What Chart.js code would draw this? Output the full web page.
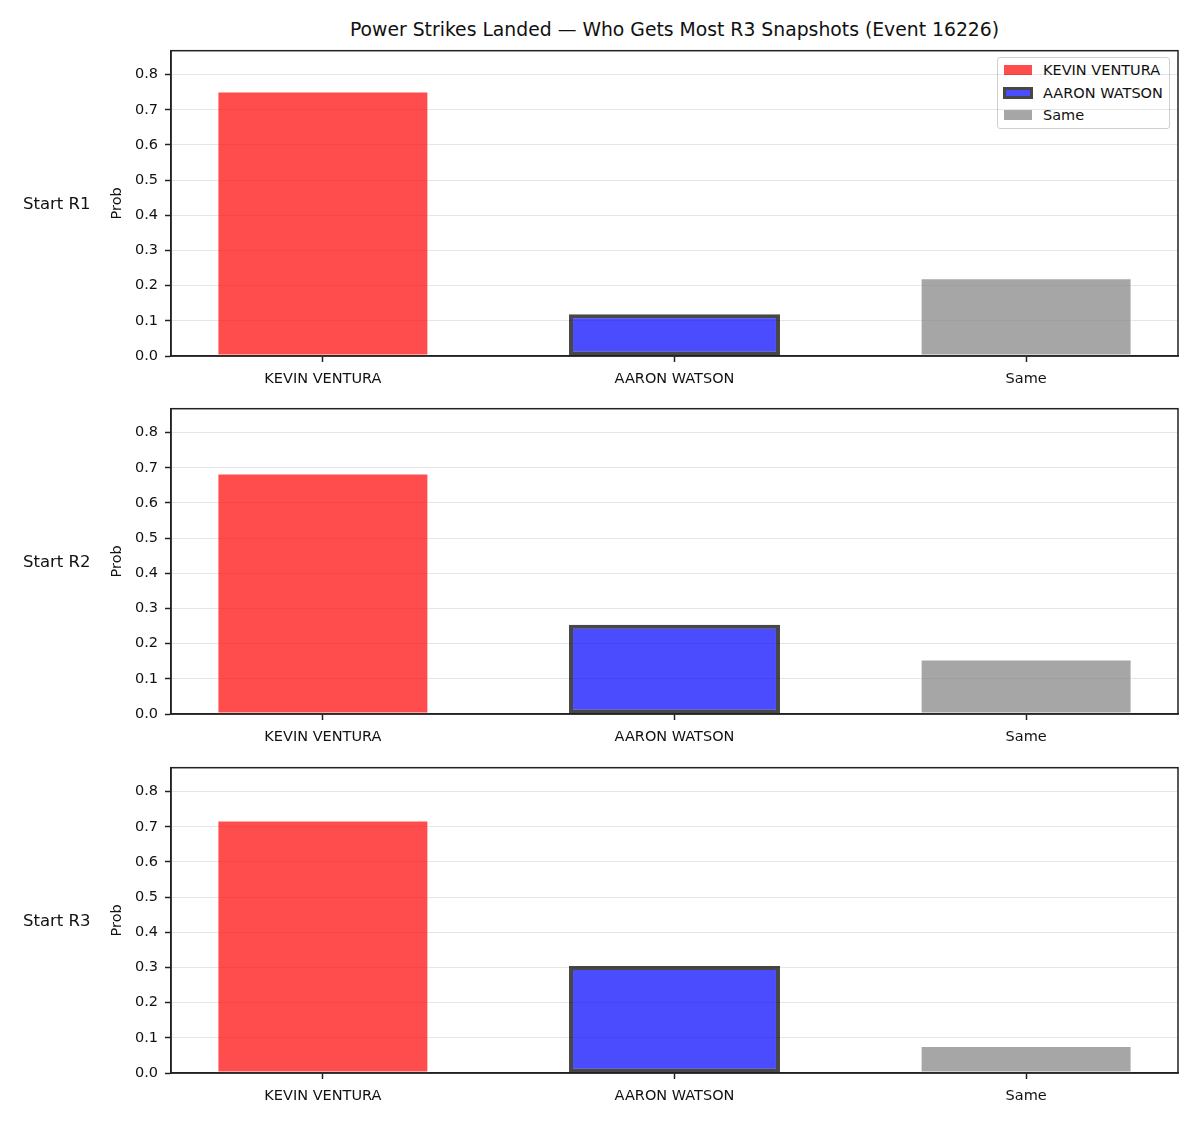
<!DOCTYPE html>
<html>
<head>
<meta charset="utf-8">
<script src="https://cdn.jsdelivr.net/npm/chart.js@4.4.1/dist/chart.umd.min.js"></script>
<style>
  body { margin: 0; background: #fff; font-family: 'DejaVu Sans', sans-serif; color: #111; }
  #page { position: relative; width: 1200px; height: 1125px; }
  #title { position: absolute; left: 171px; width: 1007px; top: 19px; text-align: center; font-size: 18.8px; }
  .rowLabel { position: absolute; left: 23px; font-size: 16.5px; transform: translateY(-50%); }
  canvas.panel { position: absolute; left: 0; }
  #legend { position: absolute; left: 997px; top: 57px; width: 171px; height: 70px; border: 1px solid #d0d0d0; border-radius: 3px; background: rgba(255,255,255,0.85); font-size: 14.5px; }
  .legRow { position: absolute; left: 6px; height: 18px; display: flex; align-items: center; }
  .legSwatch { width: 28px; height: 10px; margin-right: 11px; }
</style>
</head>
<body>
<div id="page">
  <div id="title">Power Strikes Landed — Who Gets Most R3 Snapshots (Event 16226)</div>
  <div id="legend"></div>
</div>
<script>
// values, one entry per panel (Start R1, R2, R3)
const categories = ['KEVIN VENTURA', 'AARON WATSON', 'Same'];
const panelLabels = ['Start R1', 'Start R2', 'Start R3'];
const kevinProb = [0.752, 0.684, 0.718];
const aaronProb = [0.119, 0.254, 0.304];
const sameProb = [0.221, 0.155, 0.077];
const yTicks = [0, 0.1, 0.2, 0.3, 0.4, 0.5, 0.6, 0.7, 0.8];
const yMax = 0.868;

const series = [kevinProb, aaronProb, sameProb];
const barColors = ['rgba(255,0,0,0.7)', 'rgba(0,0,255,0.7)', 'rgba(128,128,128,0.7)'];
const edgeColors = ['rgba(255,255,255,0.6)', 'rgba(0,0,0,0.72)', 'rgba(255,255,255,0.6)'];
const edgeWidths = [1, 4, 1];

const PANEL_TOPS = [35, 393, 752];
const DARK = '#222';

Chart.defaults.font.family = "'DejaVu Sans', sans-serif";
Chart.defaults.font.size = 14.5;
Chart.defaults.color = '#111';

// draw the top/right spines so the axes look boxed
const boxPlugin = {
  id: 'box',
  afterDraw(chart) {
    const { ctx, chartArea: a } = chart;
    ctx.save();
    ctx.strokeStyle = DARK;
    ctx.lineWidth = 1.5;
    ctx.strokeRect(a.left, a.top, a.right - a.left, a.bottom - a.top);
    ctx.restore();
  },
};

function makePanel(idx) {
  const page = document.getElementById('page');
  const canvas = document.createElement('canvas');
  canvas.className = 'panel';
  canvas.width = 1200;
  canvas.height = 355;
  canvas.style.top = PANEL_TOPS[idx] + 'px';
  page.appendChild(canvas);

  const lab = document.createElement('div');
  lab.className = 'rowLabel';
  lab.textContent = panelLabels[idx];
  lab.style.top = (PANEL_TOPS[idx] + 15 + 153) + 'px';
  page.appendChild(lab);

  const datasets = categories.map((name, i) => ({
    label: name,
    data: [{ x: i, y: series[i][idx] }],
    backgroundColor: barColors[i],
    borderColor: edgeColors[i],
    borderWidth: edgeWidths[i],
    borderSkipped: false,
  }));

  return new Chart(canvas, {
    type: 'bar',
    data: { datasets },
    options: {
      responsive: false,
      animation: false,
      layout: { padding: { left: 105, right: 22, top: 10, bottom: 0 } },
      datasets: { bar: { grouped: false, categoryPercentage: 1, barPercentage: 0.6 } },
      plugins: { legend: { display: false }, tooltip: { enabled: false } },
      scales: {
        x: {
          type: 'linear',
          offset: false,
          min: -0.432,
          max: 2.432,
          afterBuildTicks: (scale) => { scale.ticks = categories.map((_, i) => ({ value: i })); },
          afterFit: (scale) => { scale.height = 34; },
          ticks: { callback: (v) => categories[Math.round(v)], padding: 9, maxRotation: 0, autoSkip: false },
          grid: { offset: false, drawOnChartArea: false, tickColor: DARK, tickLength: 6, tickWidth: 1.5 },
          border: { color: DARK, width: 1.5 },
        },
        y: {
          min: 0,
          max: yMax,
          afterBuildTicks: (scale) => { scale.ticks = yTicks.map((v) => ({ value: v })); },
          afterFit: (scale) => { scale.width = 66; },
          ticks: { callback: (v) => v.toFixed(1), padding: 7 },
          grid: { color: 'rgba(0,0,0,0.1)', tickColor: DARK, tickLength: 6, tickWidth: 1.5 },
          border: { color: DARK, width: 1.5 },
          title: { display: true, text: 'Prob', font: { size: 14.5 }, padding: { top: 4, bottom: 4 } },
        },
      },
    },
    plugins: [boxPlugin],
  });
}

panelLabels.forEach((_, i) => makePanel(i));

// legend sits inside the first panel, upper right
const legend = document.getElementById('legend');
categories.forEach((name, i) => {
  const row = document.createElement('div');
  row.className = 'legRow';
  row.style.top = (3 + i * 22.5) + 'px';
  const sw = document.createElement('div');
  sw.className = 'legSwatch';
  sw.style.background = barColors[i];
  if (edgeWidths[i] > 1) {
    // the thick edge sits around the swatch, as it does round the bar
    sw.style.border = '3px solid ' + edgeColors[i];
    sw.style.width = '24px';
    sw.style.height = '6px';
    sw.style.marginLeft = '-1px';
    sw.style.marginRight = '10px';
    sw.style.backgroundClip = 'padding-box';
  }
  const tx = document.createElement('span');
  tx.textContent = name;
  row.appendChild(sw);
  row.appendChild(tx);
  legend.appendChild(row);
});
</script>
</body>
</html>
